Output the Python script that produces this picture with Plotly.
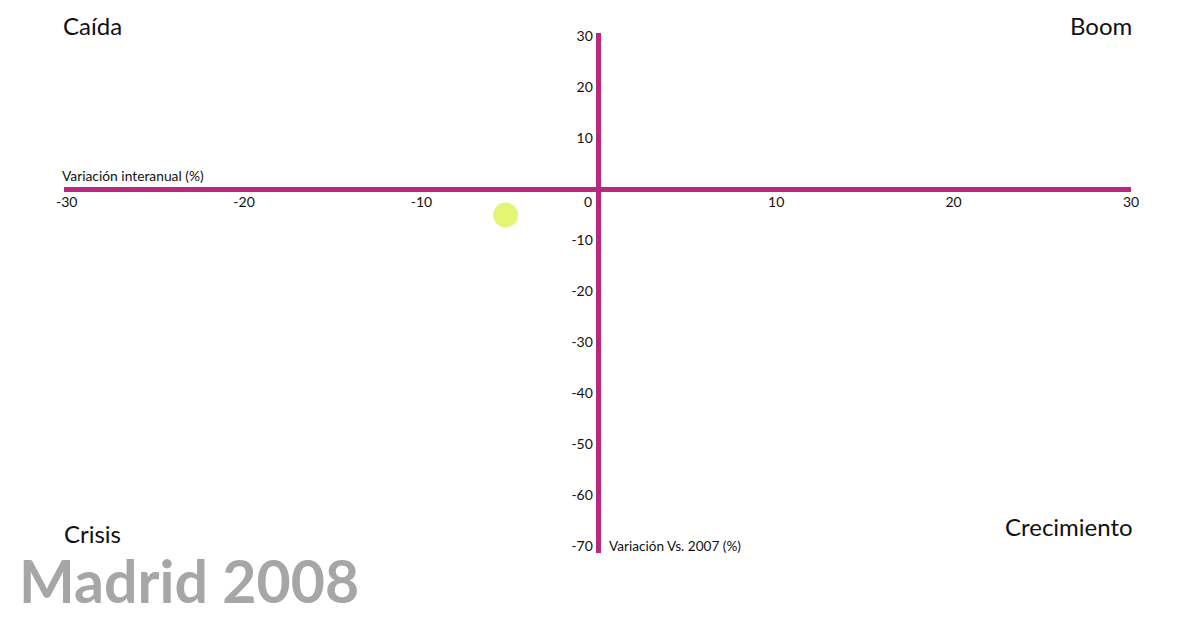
import plotly.graph_objects as go

# Data
city = "Madrid"
year = "2008"
var_interanual = [-5.25]   # x: Variación interanual (%)
var_vs_2007 = [-5.1]       # y: Variación Vs. 2007 (%)
x_ticks = [-30, -20, -10, 10, 20, 30]
x_tick_labels = ["-30", "-20", "-10", "10", "20", "30"]
y_ticks = [30, 20, 10, -10, -20, -30, -40, -50, -60, -70]
y_tick_labels = ["30", "20", "10", "-10", "-20", "-30", "-40", "-50", "-60", "-70"]
quadrants = {"top_left": "Caída", "top_right": "Boom",
             "bottom_left": "Crisis", "bottom_right": "Crecimiento"}
x_title = "Variación interanual (%)"
y_title = "Variación Vs. 2007 (%)"

FONT = "Lato, 'Liberation Sans', sans-serif"
LINE = "#B7287E"
XR = [-30.15, 30.0]
YR = [-71.4, 30.6]

fig = go.Figure()
fig.add_trace(go.Scatter(
    x=var_interanual, y=var_vs_2007, mode="markers",
    marker=dict(size=25, color="#E2F575", line=dict(width=0)),
    hoverinfo="skip", showlegend=False))

fig.update_layout(
    width=1200, height=627,
    margin=dict(l=56, r=77, t=25, b=82),
    paper_bgcolor="white", plot_bgcolor="white",
    font=dict(family=FONT, color="#111111"),
    showlegend=False,
    xaxis=dict(range=XR, showgrid=False, showline=False, zeroline=True,
               zerolinecolor=LINE, zerolinewidth=5,
               tickvals=x_ticks, ticktext=x_tick_labels, ticks="",
               tickfont=dict(size=14), ticklabelstandoff=3,
               anchor="free", position=(0 - YR[0]) / (YR[1] - YR[0]),
               fixedrange=True),
    yaxis=dict(range=YR, showgrid=False, showline=False, zeroline=True,
               zerolinecolor=LINE, zerolinewidth=5,
               tickvals=y_ticks, ticktext=y_tick_labels, ticks="",
               tickfont=dict(size=14), ticklabelstandoff=6,
               anchor="free", position=(0 - XR[0]) / (XR[1] - XR[0]),
               fixedrange=True),
)

ann = []
def pa(text, x, y, xanchor, size, xshift=0, yshift=0, color="#111111", bold=False):
    ann.append(dict(text=f"<b>{text}</b>" if bold else text,
                    xref="paper", yref="paper", x=x, y=y,
                    xanchor=xanchor, yanchor="middle", xshift=xshift, yshift=yshift,
                    showarrow=False, font=dict(size=size, family=FONT, color=color)))

pa(quadrants["top_left"], 0.0019, 1.0135, "left", 24, xshift=-5)
pa(quadrants["top_right"], 1.0009, 1.0135, "right", 24, xshift=2)
pa(quadrants["bottom_left"], 0.0019, (545 - 525) / 520, "left", 24, xshift=-4)
pa(quadrants["bottom_right"], 1.0009, (545 - 518) / 520, "right", 24, xshift=3)
pa(x_title, -0.0009, (545 - 167) / 520, "left", 13.8, xshift=-3)
ann.append(dict(text=y_title, x=0.45, y=-70.0, xanchor="left", yanchor="middle",
                showarrow=False, font=dict(size=13.6, family=FONT, color="#111111")))
ann.append(dict(text="0", x=-0.63, y=-2.5, xanchor="center", yanchor="middle",
                showarrow=False, font=dict(size=14, family=FONT, color="#111111")))
pa(f"{city} {year}", -0.0394, -0.052, "left", 59, xshift=-5, color="#A6A6A6", bold=True)
fig.update_layout(annotations=ann)

fig.write_html("out.html")
